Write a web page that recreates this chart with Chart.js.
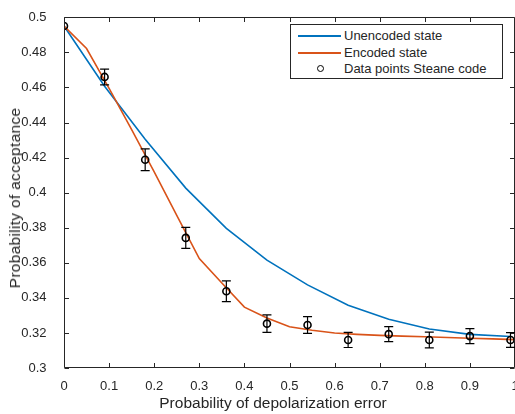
<!DOCTYPE html>
<html><head><meta charset="utf-8">
<style>
html,body{margin:0;padding:0;overflow:hidden;background:#fff;width:515px;height:414px;}
#wrap{position:relative;width:540px;height:414px;}
#c{position:absolute;left:0;top:0;}
#legend{position:absolute;left:290px;top:24px;width:213px;height:55px;border:1px solid #262626;background:#fff;font:13px "Liberation Sans",Arial,sans-serif;color:#262626;box-sizing:border-box;}
.row{position:absolute;left:0;height:16px;line-height:16px;white-space:nowrap;width:100%;}
.sw{position:absolute;left:7px;top:7px;width:43px;height:0;border-top:2px solid;}
.mk{position:absolute;left:26px;top:4px;width:5px;height:5px;border:1.3px solid #000;border-radius:50%;}
.lab{position:absolute;left:53px;top:0;}
.ttl{position:absolute;white-space:nowrap;font-family:"Liberation Sans",Arial,sans-serif;color:#262626;line-height:18px;height:18px;}
#xt{left:273px;top:394px;font-size:15.5px;transform:translateX(-50%);}
#yt{left:15px;top:198px;font-size:15.5px;letter-spacing:0.3px;transform:translate(-50%,-50%) rotate(-90deg);}
</style>
<script src="https://cdn.jsdelivr.net/npm/chart.js@4"></script>
</head><body>
<div id="wrap">
<canvas id="c" width="540" height="414"></canvas>
<div id="legend">
  <div class="row" style="top:3px"><span class="sw" style="border-color:#0072BD"></span><span class="lab">Unencoded state</span></div>
  <div class="row" style="top:20px"><span class="sw" style="border-color:#D95319"></span><span class="lab">Encoded state</span></div>
  <div class="row" style="top:36px"><span class="mk"></span><span class="lab">Data points Steane code</span></div>
</div>
<div class="ttl" id="xt">Probability of depolarization error</div>
<div class="ttl" id="yt">Probability of acceptance</div>
</div>
<script>
const xTickValues = [0, 0.1, 0.2, 0.3, 0.4, 0.5, 0.6, 0.7, 0.8, 0.9, 1];
const xTickLabels = ["0", "0.1", "0.2", "0.3", "0.4", "0.5", "0.6", "0.7", "0.8", "0.9", "1"];
const yTickValues = [0.3, 0.32, 0.34, 0.36, 0.38, 0.4, 0.42, 0.44, 0.46, 0.48, 0.5];
const yTickLabels = ["0.3", "0.32", "0.34", "0.36", "0.38", "0.4", "0.42", "0.44", "0.46", "0.48", "0.5"];

const unencodedX = [0, 0.09, 0.18, 0.27, 0.36, 0.45, 0.54, 0.63, 0.72, 0.81, 0.9, 0.99];
const unencodedY = [0.495, 0.4607, 0.4305, 0.4026, 0.3796, 0.3615, 0.3474, 0.3358, 0.3278, 0.3222, 0.3192, 0.318];

const encodedX = [0, 0.05, 0.1, 0.15, 0.2, 0.25, 0.3, 0.35, 0.4, 0.45, 0.5, 0.55, 0.6, 0.65, 0.7, 0.75, 0.8, 0.85, 0.9, 0.95, 1];
const encodedY = [0.495, 0.4822, 0.4595, 0.436, 0.4118, 0.387, 0.3624, 0.3485, 0.3347, 0.3285, 0.3235, 0.3215, 0.32, 0.3192, 0.3186, 0.3182, 0.3178, 0.3174, 0.317, 0.3166, 0.3162];

const dataX = [0, 0.09, 0.18, 0.27, 0.36, 0.45, 0.54, 0.63, 0.72, 0.81, 0.9, 0.99];
const dataY = [0.495, 0.466, 0.4188, 0.3742, 0.3438, 0.3253, 0.3245, 0.316, 0.3193, 0.316, 0.3182, 0.316];
const dataErr = [0, 0.0045, 0.0062, 0.006, 0.0059, 0.005, 0.0048, 0.0043, 0.0043, 0.0045, 0.0043, 0.0042];

const toPts = (xs, ys) => xs.map((x, i) => ({x: x, y: ys[i]}));
const AX = '#262626';
const FONT = '"Liberation Sans", Arial, sans-serif';

const boxPlugin = {
  id: 'box',
  afterDatasetsDraw(chart) {
    const ctx = chart.ctx, a = chart.chartArea;
    const xs = chart.scales.x, ys = chart.scales.y;
    ctx.save();
    ctx.strokeStyle = AX; ctx.lineWidth = 1;
    const L = Math.round(a.left) + 0.5, R = Math.round(a.right) - 0.5;
    const T = Math.round(a.top) + 0.5, B = Math.round(a.bottom) - 0.5;
    ctx.beginPath();
    ctx.moveTo(L, T); ctx.lineTo(R, T); ctx.lineTo(R, B); ctx.lineTo(L, B); ctx.closePath();
    const tl = 4.5;
    xTickValues.forEach(v => {
      const p = Math.round(xs.getPixelForValue(v)) + 0.5;
      ctx.moveTo(p, B); ctx.lineTo(p, B - tl);
      ctx.moveTo(p, T); ctx.lineTo(p, T + tl);
    });
    yTickValues.forEach(v => {
      const p = Math.round(ys.getPixelForValue(v)) + 0.5;
      ctx.moveTo(L, p); ctx.lineTo(L + tl, p);
      ctx.moveTo(R, p); ctx.lineTo(R - tl, p);
    });
    ctx.stroke();
    // error bars
    ctx.strokeStyle = '#000'; ctx.lineWidth = 1.2;
    ctx.beginPath();
    dataX.forEach((x, i) => {
      const e = dataErr[i];
      if (!e) return;
      const px = xs.getPixelForValue(x);
      const top = ys.getPixelForValue(dataY[i] + e), bot = ys.getPixelForValue(dataY[i] - e);
      ctx.moveTo(px, top); ctx.lineTo(px, bot);
      ctx.moveTo(px - 4.5, top); ctx.lineTo(px + 4.5, top);
      ctx.moveTo(px - 4.5, bot); ctx.lineTo(px + 4.5, bot);
    });
    ctx.stroke();
    ctx.restore();
  }
};

new Chart(document.getElementById('c'), {
  type: 'scatter',
  data: {
    datasets: [
      {label: 'Unencoded state', data: toPts(unencodedX, unencodedY), showLine: true, borderColor: '#0072BD', backgroundColor: '#0072BD', borderWidth: 1.6, pointRadius: 0, tension: 0, order: 3},
      {label: 'Encoded state', data: toPts(encodedX, encodedY), showLine: true, borderColor: '#D95319', backgroundColor: '#D95319', borderWidth: 1.6, pointRadius: 0, tension: 0, order: 2},
      {label: 'Data points Steane code', data: toPts(dataX, dataY), showLine: false, borderColor: '#000', backgroundColor: 'rgba(0,0,0,0)', borderWidth: 1.6, pointRadius: 3.5, pointStyle: 'circle', order: 1}
    ]
  },
  options: {
    responsive: false,
    animation: false,
    layout: {padding: {left: 0, top: 12, right: 25, bottom: 0}},
    plugins: {legend: {display: false}, tooltip: {enabled: false}},
    scales: {
      x: {
        type: 'linear', min: 0, max: 1,
        grid: {display: false}, border: {display: false},
        afterBuildTicks: s => { s.ticks = xTickValues.map(v => ({value: v})); },
        afterFit: s => { s.height = 46; },
        ticks: {color: AX, font: {family: FONT, size: 13}, padding: 3, maxRotation: 0, autoSkip: false,
          callback: (v) => xTickLabels[xTickValues.indexOf(v)]},
        title: {display: false}
      },
      y: {
        type: 'linear', min: 0.3, max: 0.5,
        grid: {display: false}, border: {display: false},
        afterBuildTicks: s => { s.ticks = yTickValues.map(v => ({value: v})); },
        afterFit: s => { s.width = 64; },
        ticks: {color: AX, font: {family: FONT, size: 13}, padding: 9.5, autoSkip: false,
          callback: (v) => yTickLabels[yTickValues.indexOf(v)]},
        title: {display: false}
      }
    }
  },
  plugins: [boxPlugin]
});
</script>
</body></html>
